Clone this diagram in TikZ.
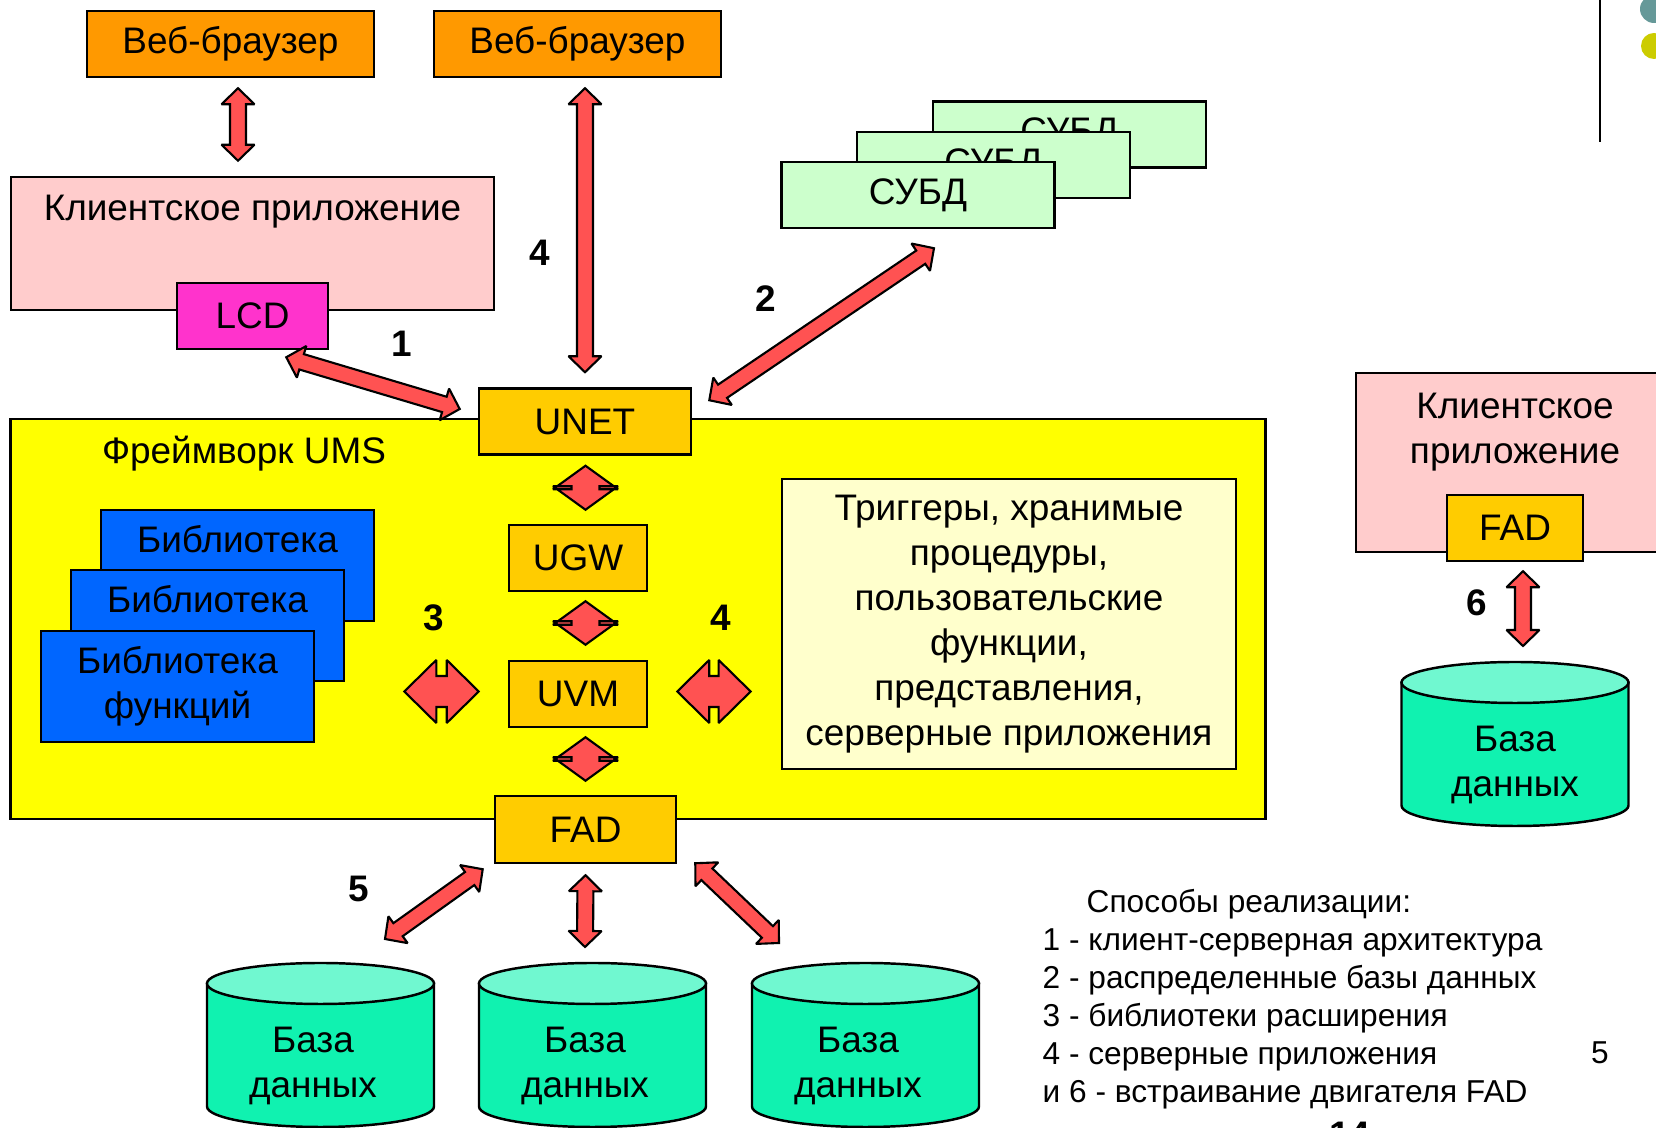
\documentclass[tikz,border=0pt]{standalone}
\usepackage{fontspec}
\setmainfont{Liberation Sans}
\usepackage{xcolor}
\usepackage{tikz}
\usetikzlibrary{calc,backgrounds}

\definecolor{browserc}{HTML}{FF9900}
\definecolor{clientc}{HTML}{FFCCCC}
\definecolor{lcdc}{HTML}{FF33CC}
\definecolor{modc}{HTML}{FFCC00}
\definecolor{umsc}{HTML}{FFFF00}
\definecolor{libc}{HTML}{0066FF}
\definecolor{trigc}{HTML}{FFFFCC}
\definecolor{dbmsc}{HTML}{CCFFCC}
\definecolor{arrowc}{HTML}{FF5252}
\definecolor{dbsidec}{RGB}{16,242,176}
\definecolor{dbtopc}{RGB}{112,248,208}
\definecolor{tealc}{HTML}{669999}
\definecolor{olivec}{HTML}{CCCC00}

% block arrow: ends #1, #2; half shaft #3, half head #4, head length #5
\newcommand{\blockarrow}[5]{%
  \path (#1) coordinate (ba-s) (#2) coordinate (ba-e);
  \path ($(ba-s)!#5!(ba-e)$) coordinate (ba-a) ($(ba-e)!#5!(ba-s)$) coordinate (ba-b);
  \filldraw[bigarrow] (ba-s) -- ($(ba-a)!#4!90:(ba-e)$) -- ($(ba-a)!#3!90:(ba-e)$)
    -- ($(ba-b)!#3!-90:(ba-s)$) -- ($(ba-b)!#4!-90:(ba-s)$) -- (ba-e)
    -- ($(ba-b)!#4!90:(ba-s)$) -- ($(ba-b)!#3!90:(ba-s)$)
    -- ($(ba-a)!#3!-90:(ba-e)$) -- ($(ba-a)!#4!-90:(ba-e)$) -- cycle;
}
\newcommand{\bigarrow}[2]{\blockarrow{#1}{#2}{0.08cm}{0.165cm}{0.16cm}}
\newcommand{\diamondarrow}[2]{\blockarrow{#1}{#2}{0.14cm}{0.325cm}{0.235cm}}
\newcommand{\sidearrow}[2]{\blockarrow{#1}{#2}{0.155cm}{0.315cm}{0.32cm}}

% cylinder round a text node #1, shifted right by #2
\newcommand{\dbcyl}[2]{%
  \filldraw[dbside] ($(#1)+(#2-113.5,-82.5)$) -- ($(#1)+(#2-113.5,40.5)$)
    arc[start angle=180, end angle=0, x radius=113.5, y radius=20.5]
    -- ($(#1)+(#2+113.5,-82.5)$) -- cycle;
  \filldraw[dbtop] ($(#1)+(#2,-82.5)$) ellipse[x radius=113.5, y radius=20.5];
}

\begin{document}
\begin{tikzpicture}[x=0.01cm, y=-0.01cm, font=\fontsize{10.5}{12.8}\selectfont]
  % Styles
  \tikzstyle{box} = [rectangle, draw=black, line width=0.7pt, inner sep=0pt, align=center]
  \tikzstyle{browser} = [box, fill=browserc, minimum width=2.87cm, minimum height=0.66cm]
  \tikzstyle{module} = [box, fill=modc, minimum height=0.66cm]
  \tikzstyle{library} = [box, fill=libc, minimum width=2.73cm, minimum height=1.11cm]
  \tikzstyle{dbms} = [box, fill=dbmsc, minimum width=2.73cm, minimum height=0.66cm]
  \tikzstyle{txt} = [inner sep=0pt, align=center]
  \tikzstyle{num} = [inner sep=0pt, font=\fontsize{10.5}{12.8}\selectfont\bfseries]
  \tikzstyle{bigarrow} = [fill=arrowc, draw=black, line width=0.6pt, miter limit=2]
  \tikzstyle{dbside} = [fill=dbsidec, draw=black, line width=0.7pt]
  \tikzstyle{dbtop} = [fill=dbtopc, draw=black, line width=0.7pt]

  \useasboundingbox (0,0) rectangle (1656,1128);

  % Slide decoration
  \draw[line width=0.8pt] (1600,0) -- (1600,142);
  \fill[tealc] (1654,9) circle[radius=14];
  \fill[olivec] (1654,46) circle[radius=13];

  % Web browsers and client application
  \node[browser] (web1) at (230.5,44) {Веб-браузер};
  \node[browser] (web2) at (577.5,44) {Веб-браузер};
  \node[box, fill=clientc, minimum width=4.83cm, minimum height=1.33cm] (client) at (252.5,243.5) {};
  \node[txt] (clienttxt) at (252.5,212) {Клиентское приложение};
  \node[box, fill=lcdc, minimum width=1.51cm, minimum height=0.66cm] (lcd) at (252.5,316) {LCD};

  % DBMS stack
  \node[dbms] (dbms3) at (1069.5,134.5) {СУБД};
  \node[dbms] (dbms2) at (993.5,165) {СУБД};
  \node[dbms] (dbms1) at (918,195) {СУБД};

  % UMS framework
  \node[box, fill=umsc, minimum width=12.54cm, minimum height=4.0cm] (ums) at (638,619) {};
  \node[txt] (umstxt) at (244,454) {Фреймворк UMS};
  \node[library] (lib3) at (237.5,565.5) {Библиотека\\\phantom{функций}};
  \node[library] (lib2) at (207.5,625.5) {Библиотека\\\phantom{функций}};
  \node[library] (lib1) at (177.5,686.5) {Библиотека\\функций};
  \node[box, fill=trigc, minimum width=4.54cm, minimum height=2.9cm] (trig) at (1009,624)
    {Триггеры, хранимые\\процедуры,\\пользовательские\\функции,\\представления,\\серверные приложения};
  \node[module, minimum width=2.12cm] (unet) at (585,421.5) {UNET};
  \node[module, minimum width=1.38cm] (ugw) at (578,558) {UGW};
  \node[module, minimum width=1.38cm] (uvm) at (578,694) {UVM};
  \node[module, minimum width=1.81cm, minimum height=0.67cm] (fad) at (585.5,829.5) {FAD};

  % Embedded client
  \node[box, fill=clientc, minimum width=3.18cm, minimum height=1.79cm] (client2) at (1515,462.5) {};
  \node[txt] (client2txt) at (1515,432) {Клиентское\\приложение};
  \node[module, minimum width=1.36cm] (fad2) at (1515,528) {FAD};

  % Databases
  \node[txt] (db1) at (313,1066) {База\\данных};
  \node[txt] (db2) at (585,1066) {База\\данных};
  \node[txt] (db3) at (858,1066) {База\\данных};
  \node[txt] (db4) at (1515,765) {База\\данных};
  \begin{scope}[on background layer]
    \dbcyl{db1}{7.5}
    \dbcyl{db2}{7.5}
    \dbcyl{db3}{7.5}
    \dbcyl{db4}{0}
  \end{scope}

  % Connections
  \bigarrow{$(web1.south)+(7.5,10)$}{$(client.north)+(-14.5,-15)$}
  \bigarrow{$(web2.south)+(7.5,10)$}{$(unet.north)+(0,-15)$}
  \bigarrow{$(lcd.south east)+(-43,7)$}{$(unet.west)+(-18,-12.5)$}
  \bigarrow{$(unet.north east)+(17,13)$}{$(dbms1.south)+(16,19)$}
  \diamondarrow{$(unet.south)+(0.5,10)$}{$(ugw.north)+(7.5,-14)$}
  \diamondarrow{$(ugw.south)+(7.5,9)$}{$(uvm.north)+(7.5,-15)$}
  \diamondarrow{$(uvm.south)+(7.5,9)$}{$(fad.north)+(0,-14)$}
  \sidearrow{$(lib1.east)+(89,5)$}{$(uvm.west)+(-29,-2.5)$}
  \sidearrow{$(uvm.east)+(29,-2.5)$}{$(trig.west)+(-30,67.5)$}
  \bigarrow{$(fad.south west)+(-11,5)$}{$(db1)+(72,-127)$}
  \bigarrow{$(fad.south)+(0,11)$}{$(db2)+(0,-119)$}
  \bigarrow{$(fad.south east)+(18,-1)$}{$(db3)+(-79,-123)$}
  \bigarrow{$(fad2.south)+(8,9)$}{$(db4)+(8,-119)$}

  % Numbers
  \node[num] (n4a) at (540,253) {4};
  \node[num] (n1) at (402,344) {1};
  \node[num] (n2) at (766,299) {2};
  \node[num] (n3) at (434,618) {3};
  \node[num] (n4b) at (721,618) {4};
  \node[num] (n5) at (359,889) {5};
  \node[num] (n6) at (1477,603) {6};

  % Legend
  \node[inner sep=0pt, align=left, anchor=west, font=\fontsize{9}{10.8}\selectfont] (legend) at (1042,999)
    {\hspace*{0.44cm}Способы реализации:\\1 - клиент-серверная архитектура\\2 - распределенные базы данных\\3 - библиотеки расширения\\4 - серверные приложения\\и 6 - встраивание двигателя FAD};
  \node[inner sep=0pt, font=\fontsize{9}{10.8}\selectfont] (page) at (1600,1053) {5};
  \node[num, anchor=north] (slide) at (1350,1121) {14};
\end{tikzpicture}
\end{document}
